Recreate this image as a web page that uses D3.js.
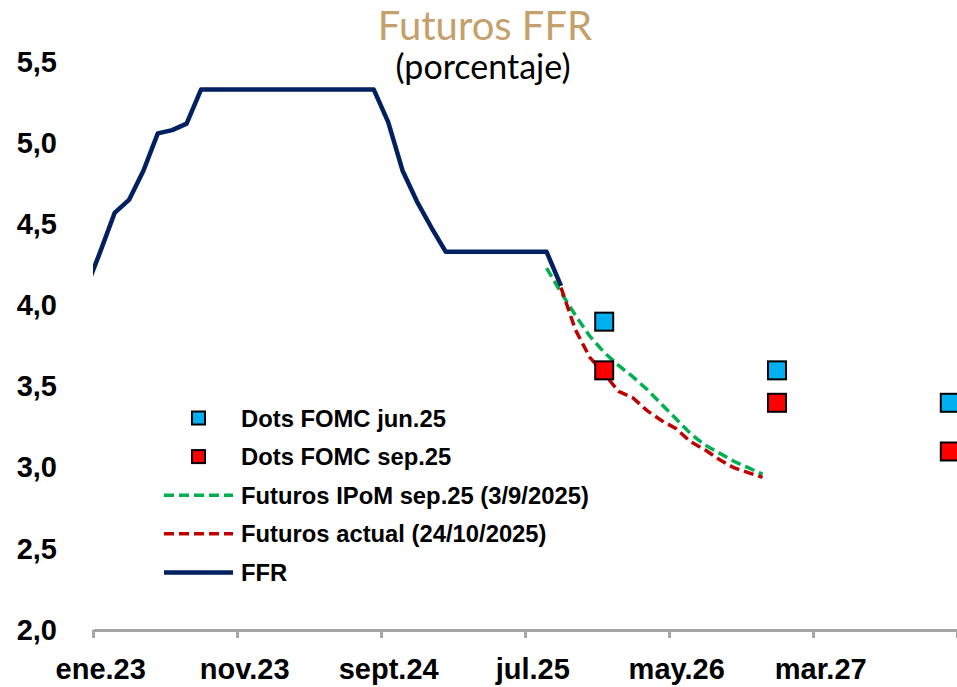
<!DOCTYPE html>
<html>
<head>
<meta charset="utf-8">
<script src="https://cdn.jsdelivr.net/npm/d3@7"></script>
<style>
    body { margin: 0; background: #fff; }
    svg { display: block; }
</style>
</head>
<body>
<div id="chart"></div>
<script>
// Tasa de fondos federales (promedio mensual), desde dic.22
const ffrStart = "2022-12";
const ffrValues = [
    4.10, 4.33, 4.57, 4.65, 4.83, 5.06, 5.08, 5.12, 5.33, 5.33, 5.33, 5.33,
    5.33, 5.33, 5.33, 5.33, 5.33, 5.33, 5.33, 5.33, 5.33, 5.13, 4.83, 4.64,
    4.48, 4.33, 4.33, 4.33, 4.33, 4.33, 4.33, 4.33, 4.33, 4.12
];

// Futuros IPoM sep.25 (3/9/2025), desde ago.25
const ipomStart = "2025-08";
const ipomValues = [
    4.23, 4.08, 3.94, 3.81, 3.71, 3.63, 3.56, 3.48,
    3.39, 3.30, 3.21, 3.14, 3.09, 3.04, 3.00, 2.96
];

// Futuros actual (24/10/2025), desde sep.25
const actualStart = "2025-09";
const actualValues = [
    4.11, 3.85, 3.68, 3.58, 3.47, 3.43, 3.35, 3.29,
    3.24, 3.16, 3.11, 3.05, 3.00, 2.97, 2.94
];

// Dots FOMC (fin de año)
const dotMonths = ["2025-12", "2026-12", "2027-12"];
const dotsJun25 = [3.9, 3.6, 3.4];
const dotsSep25 = [3.6, 3.4, 3.1];

// Ejes
const xTickMonths = ["2023-01", "2023-11", "2024-09", "2025-07", "2026-05", "2027-03", "2028-01"];
const xTickLabels = ["ene.23", "nov.23", "sept.24", "jul.25", "may.26", "mar.27", ""];
const yTicks = [2.0, 2.5, 3.0, 3.5, 4.0, 4.5, 5.0, 5.5];

const COLORS = {
    ffr: '#002060',
    ipom: '#00B050',
    actual: '#C00000',
    dotsJun: '#00B0F0',
    dotsSep: '#FF0000',
    title: '#C4A06C',
    axis: '#A6A6A6'
};

// meses desde ene.23
function monthIndex(s) {
    const [y, m] = s.split('-').map(Number);
    return (y - 2023) * 12 + (m - 1);
}

function toSeries(start, values) {
    const i0 = monthIndex(start);
    return values.map((v, i) => ({ m: i0 + i, v: v }));
}

class FfrChart {
    constructor(containerId) {
        this.width = 957;
        this.height = 687;
        this.svg = d3.select(`#${containerId}`)
            .append('svg')
            .attr('width', this.width)
            .attr('height', this.height);

        this.x = d3.scaleLinear().domain([0, 60]).range([93, 957]);
        this.y = d3.scaleLinear().domain([2, 5.5]).range([630, 62]);

        this.render();
    }

    render() {
        this.drawTitle();
        this.drawAxes();
        this.drawLines();
        this.drawDots();
        this.drawLegend();
    }

    drawTitle() {
        this.svg.append('text')
            .attr('x', 485).attr('y', 40)
            .attr('text-anchor', 'middle')
            .style('font-family', 'Lato, sans-serif')
            .style('font-size', '40px')
            .style('fill', COLORS.title)
            .text('Futuros FFR');

        this.svg.append('text')
            .attr('x', 483).attr('y', 79)
            .attr('text-anchor', 'middle')
            .style('font-family', 'Lato, sans-serif')
            .style('font-size', '34px')
            .style('fill', '#000')
            .text('(porcentaje)');
    }

    drawAxes() {
        const yAxis = d3.axisLeft(this.y)
            .tickValues(yTicks)
            .tickSize(0)
            .tickPadding(0)
            .tickFormat(d => d3.format('.1f')(d).replace('.', ','));

        const gy = this.svg.append('g')
            .attr('transform', 'translate(57,0)')
            .call(yAxis);
        gy.select('.domain').remove();
        gy.selectAll('text')
            .style('font-family', '"Liberation Sans", Arial, sans-serif')
            .style('font-size', '29px')
            .style('font-weight', 'bold')
            .style('fill', '#000');

        const xAxis = d3.axisBottom(this.x)
            .tickValues(xTickMonths.map(monthIndex))
            .tickSizeInner(8)
            .tickSizeOuter(0)
            .tickPadding(20)
            .tickFormat((d, i) => xTickLabels[i]);

        const gx = this.svg.append('g')
            .attr('transform', `translate(0,${this.y(2)})`)
            .call(xAxis);
        gx.select('.domain')
            .style('stroke', COLORS.axis)
            .style('stroke-width', 3);
        gx.selectAll('.tick line')
            .style('stroke', COLORS.axis)
            .style('stroke-width', 3);
        // etiquetas centradas en el mes
        const half = this.x(0.5) - this.x(0);
        gx.selectAll('.tick text')
            .attr('x', half)
            .style('font-family', '"Liberation Sans", Arial, sans-serif')
            .style('font-size', '29px')
            .style('font-weight', 'bold')
            .style('fill', '#000');
    }

    drawLines() {
        this.svg.append('clipPath')
            .attr('id', 'plot-clip')
            .append('rect')
            .attr('x', 93).attr('y', 0)
            .attr('width', 864).attr('height', 630);

        const line = d3.line()
            .x(d => this.x(d.m + 0.5))
            .y(d => this.y(d.v));

        const plot = this.svg.append('g').attr('clip-path', 'url(#plot-clip)');

        plot.append('path')
            .datum(toSeries(ipomStart, ipomValues))
            .attr('d', line)
            .style('fill', 'none')
            .style('stroke', COLORS.ipom)
            .style('stroke-width', 3.5)
            .style('stroke-dasharray', '10,5');

        plot.append('path')
            .datum(toSeries(actualStart, actualValues))
            .attr('d', line)
            .style('fill', 'none')
            .style('stroke', COLORS.actual)
            .style('stroke-width', 3.5)
            .style('stroke-dasharray', '10,5');

        plot.append('path')
            .datum(toSeries(ffrStart, ffrValues))
            .attr('d', line)
            .style('fill', 'none')
            .style('stroke', COLORS.ffr)
            .style('stroke-width', 4.5)
            .style('stroke-linejoin', 'round');
    }

    drawDots() {
        const size = 18;
        const series = [
            { values: dotsJun25, color: COLORS.dotsJun },
            { values: dotsSep25, color: COLORS.dotsSep }
        ];
        series.forEach(s => {
            this.svg.selectAll(null)
                .data(dotMonths.map((m, i) => ({ m: monthIndex(m), v: s.values[i] })))
                .enter()
                .append('rect')
                .attr('x', d => this.x(d.m + 0.5) - size / 2)
                .attr('y', d => this.y(d.v) - size / 2)
                .attr('width', size)
                .attr('height', size)
                .style('fill', s.color)
                .style('stroke', '#000')
                .style('stroke-width', 2);
        });
    }

    drawLegend() {
        const items = [
            { type: 'square', color: COLORS.dotsJun, label: 'Dots FOMC jun.25' },
            { type: 'square', color: COLORS.dotsSep, label: 'Dots FOMC sep.25' },
            { type: 'dash', color: COLORS.ipom, label: 'Futuros IPoM sep.25 (3/9/2025)' },
            { type: 'dash', color: COLORS.actual, label: 'Futuros actual (24/10/2025)' },
            { type: 'line', color: COLORS.ffr, label: 'FFR' }
        ];

        const rows = this.svg.append('g')
            .selectAll('g')
            .data(items)
            .enter()
            .append('g')
            .attr('transform', (d, i) => `translate(0,${418 + i * 38.6})`);

        rows.filter(d => d.type === 'square')
            .append('rect')
            .attr('x', 192).attr('y', -6.5)
            .attr('width', 13).attr('height', 13)
            .style('fill', d => d.color)
            .style('stroke', '#000')
            .style('stroke-width', 2);

        rows.filter(d => d.type !== 'square')
            .append('line')
            .attr('x1', 164).attr('x2', 233)
            .style('stroke', d => d.color)
            .style('stroke-width', d => d.type === 'line' ? 4.5 : 3.5)
            .style('stroke-dasharray', d => d.type === 'dash' ? '10,5' : null);

        rows.append('text')
            .attr('x', 241)
            .attr('dy', '0.36em')
            .style('font-family', '"Liberation Sans", Arial, sans-serif')
            .style('font-size', '23.8px')
            .style('font-weight', 'bold')
            .style('fill', '#000')
            .text(d => d.label);
    }
}

new FfrChart('chart');
</script>
</body>
</html>
